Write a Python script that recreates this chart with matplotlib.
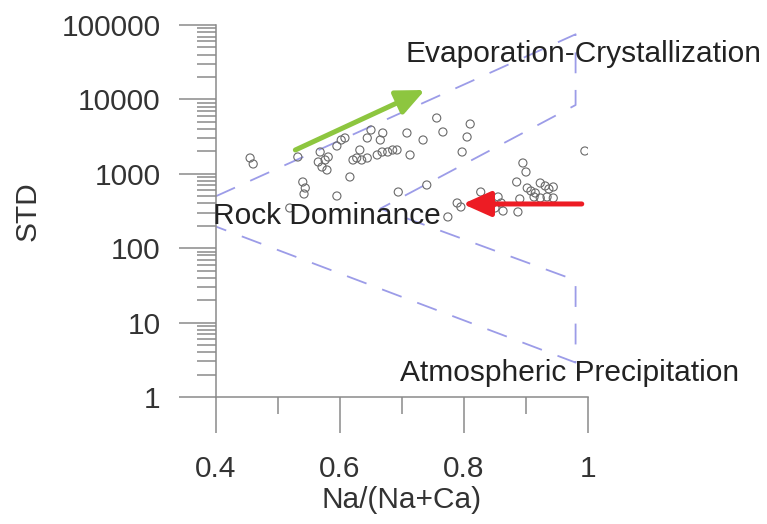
import matplotlib
matplotlib.use("Agg")
import matplotlib.pyplot as plt

plt.rcParams['font.family'] = 'Liberation Sans'
plt.rcParams['lines.scale_dashes'] = False

# Na/(Na+Ca) ratio and total dissolved solids for each sample
na_ratio = [0.455, 0.460, 0.519, 0.532, 0.540, 0.544, 0.542, 0.565, 0.568, 0.571,
            0.576, 0.579, 0.581, 0.595, 0.595, 0.602, 0.608, 0.616, 0.621, 0.627,
            0.635, 0.644, 0.632, 0.644, 0.650, 0.660, 0.668, 0.665, 0.669, 0.677,
            0.685, 0.692, 0.694, 0.708, 0.713, 0.734, 0.740, 0.756, 0.766, 0.797,
            0.805, 0.810, 0.774, 0.789, 0.795, 0.827, 0.845, 0.855, 0.860, 0.850,
            0.863, 0.885, 0.890, 0.887, 0.895, 0.900, 0.902, 0.908, 0.915, 0.923,
            0.931, 0.937, 0.944, 0.913, 0.923, 0.934, 0.944, 0.995]
tds = [1630, 1355, 347, 1682, 776, 644, 535, 1441, 1963, 1234,
       1532, 1125, 1682, 503, 2364, 2846, 3029, 906, 1532, 1630,
       1532, 1630, 2089, 3029, 3880, 1790, 1963, 2846, 3535, 1963,
       2089, 2089, 569, 3535, 1790, 2846, 707, 5623, 3648, 1963,
       3124, 4670, 263, 405, 358, 569, 393, 488, 405, 347,
       316, 776, 459, 307, 1397, 1057, 644, 587, 552, 752,
       686, 625, 665, 488, 473, 488, 473, 2025]

# Gibbs boundary envelope (outer and inner lines joined)
boundary_x = [0.40, 0.98, 0.98, 0.665, 0.98, 0.98, 0.40]
boundary_y = [500, 75000, 8400, 340, 37, 2.9, 195]

x_ticks = [0.4, 0.6, 0.8, 1.0]
x_labels = ['0.4', '0.6', '0.8', '1']
y_ticks = [1, 10, 100, 1000, 10000, 100000]
y_labels = ['1', '10', '100', '1000', '10000', '100000']

fig = plt.figure(figsize=(7.67, 5.24), dpi=100)
ax = fig.add_axes([0.2816, 0.2424, 0.485, 0.7099])
ax.set_yscale('log')
ax.set_xlim(0.4, 1.0)
ax.set_ylim(1, 100000)

ax.plot(boundary_x, boundary_y, color='#9c9ce8', lw=1.3,
        linestyle=(0, (15, 12)), zorder=1)
ax.scatter(na_ratio, tds, s=34, facecolors='none', edgecolors='#6a6a6a',
           linewidths=0.8, zorder=3)

# trend arrows
ax.annotate('', xy=(0.737, 13370), xytext=(0.528, 2089),
            arrowprops=dict(arrowstyle='-|>,head_length=0.85,head_width=0.38',
                            color='#8dc63f', lw=3.6, mutation_scale=20,
                            shrinkA=0, shrinkB=0), zorder=4)
ax.annotate('', xy=(0.798, 393), xytext=(0.99, 393),
            arrowprops=dict(arrowstyle='-|>,head_length=0.85,head_width=0.38',
                            color='#ed1c24', lw=3.6, mutation_scale=20,
                            shrinkA=0, shrinkB=0), zorder=4)

txt = dict(fontsize=21.5, color='#222222', va='center', ha='left')
ax.text(0.705, 40700, 'Evaporation-Crystallization', **txt)
ax.text(0.395, 271, 'Rock Dominance', zorder=5, **txt)
ax.text(0.697, 2.1, 'Atmospheric Precipitation', **txt)

for s in ['top', 'right']:
    ax.spines[s].set_visible(False)
for s in ['left', 'bottom']:
    ax.spines[s].set_color('#8a8a8a')
    ax.spines[s].set_linewidth(1.1)

ax.set_xticks(x_ticks)
ax.set_xticklabels(x_labels)
ax.set_xticks([0.5, 0.7, 0.9], minor=True)
ax.set_yticks(y_ticks)
ax.set_yticklabels(y_labels)
ax.tick_params(axis='x', which='major', length=26, width=1.1, color='#8a8a8a',
               pad=16, labelsize=21.5, labelcolor='#333333')
ax.tick_params(axis='x', which='minor', length=12, width=1.1, color='#8a8a8a')
ax.tick_params(axis='y', which='major', length=27, width=1.1, color='#8a8a8a',
               pad=13, labelsize=21.5, labelcolor='#333333')
ax.tick_params(axis='y', which='minor', length=14, width=1.1, color='#8a8a8a')

ax.set_xlabel('Na/(Na+Ca)', fontsize=21.5, color='#333333', labelpad=2)
ax.set_ylabel('STD', fontsize=21.5, color='#333333', labelpad=14)

fig.savefig('out.png', dpi=100)
